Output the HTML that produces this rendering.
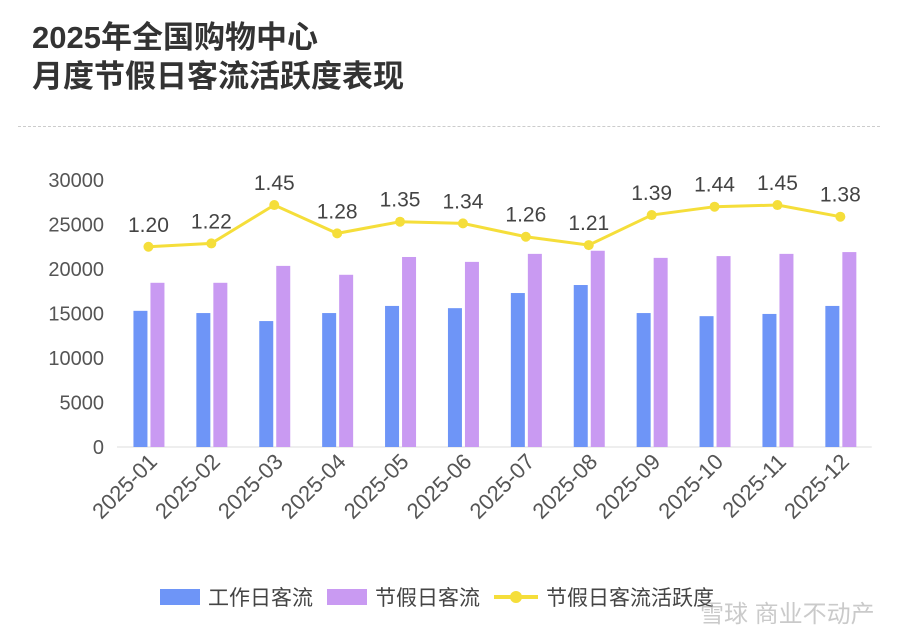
<!DOCTYPE html>
<html><head><meta charset="utf-8"><style>
body{margin:0;background:#fff;width:897px;height:642px;overflow:hidden;font-family:"Liberation Sans","Noto Sans CJK SC",sans-serif}
.t{position:absolute;left:32px;font-size:31px;font-weight:bold;color:#333;line-height:39px}
</style></head><body>
<div class="t" style="top:18px">2025年全国购物中心<br>月度节假日客流活跃度表现</div>
<div style="position:absolute;left:18px;top:126px;width:862px;border-top:1px dashed #ccc"></div>
<svg id="c" width="897" height="642" style="position:absolute;left:0;top:0"></svg>
<script>
const categories=["2025-01","2025-02","2025-03","2025-04","2025-05","2025-06","2025-07","2025-08","2025-09","2025-10","2025-11","2025-12"];
const workdayFlow=[15300,15050,14150,15050,15850,15600,17300,18200,15050,14700,14950,15850];
const holidayFlow=[18450,18450,20350,19350,21350,20800,21700,22050,21250,21450,21700,21900];
const activity=[1.20,1.22,1.45,1.28,1.35,1.34,1.26,1.21,1.39,1.44,1.45,1.38];
const yTicks=[0,5000,10000,15000,20000,25000,30000];
const NS="http://www.w3.org/2000/svg",svg=document.getElementById('c');
const y0=447,y1=180,xL=117,bw=62.9;
const y=v=>y0-v/30000*(y0-y1);
const y2=v=>y0-v/1.6*(y0-y1);
const xc=i=>xL+bw*(i+0.5);
function mk(t,a){const e=document.createElementNS(NS,t);for(const k in a)e.setAttribute(k,a[k]);svg.appendChild(e);return e;}
yTicks.forEach(v=>{const e=mk('text',{x:104,y:y(v)+7,'text-anchor':'end','font-size':20,fill:'#555'});e.textContent=v;

});
const base=mk('line',{x1:xL,x2:xL+bw*12,y1:y0,y2:y0,stroke:'#ddd','stroke-width':1});


categories.forEach((c,i)=>{
 const b=mk('rect',{x:xc(i)-15,y:y(workdayFlow[i]),width:14,height:y0-y(workdayFlow[i]),fill:'#6e95f7'});
 
 
 const p=mk('rect',{x:xc(i)+2,y:y(holidayFlow[i]),width:14,height:y0-y(holidayFlow[i]),fill:'#c99af2'});
 
 
 const t=mk('text',{x:0,y:0,'text-anchor':'end','font-size':22,fill:'#555',transform:`translate(${xc(i)+10},${y0+16}) rotate(-45)`});
 t.textContent=c;
 
 
});
const pts=activity.map((v,i)=>xc(i)+','+y2(v)).join(' ');
const line=mk('polyline',{points:pts,fill:'none',stroke:'#f5de3a','stroke-width':3});


activity.forEach((v,i)=>{
 const d=mk('circle',{cx:xc(i),cy:y2(v),r:5,fill:'#f5de3a'});
 
 
 const t=mk('text',{x:xc(i),y:y2(v)-15,'text-anchor':'middle','font-size':21,fill:'#444'});
 t.textContent=v.toFixed(2);
 
 
});
</script>
<div style="position:absolute;top:582px;left:160px;font-size:21px;color:#444;display:flex;align-items:center;white-space:nowrap">
<span style="display:flex;align-items:center"><span style="width:40px;height:16px;background:#6e95f7;margin-right:8px"></span>工作日客流</span>
<span style="display:flex;align-items:center;margin-left:14px"><span style="width:40px;height:16px;background:#c99af2;margin-right:8px"></span>节假日客流</span>
<span style="display:flex;align-items:center;margin-left:14px"><span style="position:relative;width:44px;height:4px;background:#f5de3a;margin-right:8px"><span style="position:absolute;left:16px;top:-4px;width:12px;height:12px;border-radius:50%;background:#f5de3a"></span></span>节假日客流活跃度</span>
</div>
<div style="position:absolute;left:700px;top:594px;font-size:24px;color:rgba(150,150,150,0.5)">雪球 商业不动产</div>
</body></html>
